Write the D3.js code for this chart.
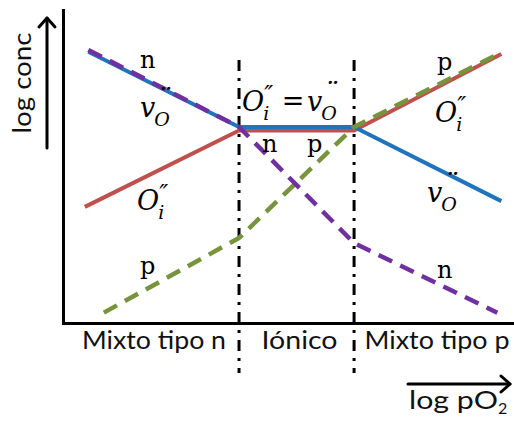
<!DOCTYPE html>
<html>
<head>
<meta charset="utf-8">
<script src="https://cdn.jsdelivr.net/npm/d3@7"></script>
<style>
  html, body { margin: 0; padding: 0; background: #fff; }
  svg { display: block; }
</style>
</head>
<body>
<svg id="chart" width="514" height="423"></svg>
<script>
// Brouwer diagram: defect concentrations vs. oxygen partial pressure (log-log)

// region boundaries along log pO2
const boundaries = [-1, 1];
const regionNames = ["Mixto tipo n", "Iónico", "Mixto tipo p"];

// series: [log pO2, log conc]
const vacancies    = [[-3.62, 1.31], [-1, 0], [1, 0], [3.56, -1.29]];      // v_O
const interstitial = [[-3.68, -1.39], [-1, -0.06], [1, -0.06], [3.56, 1.27]]; // O_i
const electrons    = [[-3.62, 1.34], [-1, 0], [1, -2.02], [3.49, -3.23]];  // n
const holes        = [[-3.35, -3.23], [-1, -1.93], [1, 0], [3.57, 1.30]];  // p

const svg = d3.select("#chart");
const W = 514;

const x = d3.scaleLinear().domain([-4.06, 3.78]).range([63, W]);
const y = d3.scaleLinear().domain([-3.41, 2.035]).range([323, 10]);

const line = d3.line().x(d => x(d[0])).y(d => y(d[1]));

// axes without ticks: plain domain lines
svg.append("g").attr("transform", `translate(${x.range()[0]},0)`)
  .call(d3.axisLeft(y).tickValues([]).tickSizeOuter(0));
svg.append("g").attr("transform", `translate(0,${y.range()[0]})`)
  .call(d3.axisBottom(x).tickValues([]).tickSizeOuter(0));
svg.selectAll(".domain").attr("stroke", "#000").attr("stroke-width", 3)
  .attr("stroke-linecap", "square");

// region separators (dash-dot)
svg.selectAll(".sep").data(boundaries).join("line")
  .attr("class", "sep")
  .attr("x1", d => x(d)).attr("x2", d => x(d))
  .attr("y1", 60).attr("y2", 373)
  .attr("stroke", "#000").attr("stroke-width", 3)
  .attr("stroke-dasharray", "11,7,3,7");

// defect lines
const series = [
  { data: interstitial, color: "#c0504d", dash: null, w: 4 },
  { data: vacancies,    color: "#1f74bd", dash: null, w: 4 },
  { data: holes,        color: "#77933c", dash: "15,9", w: 4.5 },
  { data: electrons,    color: "#7030a0", dash: "15,9", w: 4.5 }
];
svg.selectAll(".series").data(series).join("path")
  .attr("class", "series")
  .attr("d", d => line(d.data))
  .attr("fill", "none")
  .attr("stroke", d => d.color)
  .attr("stroke-width", d => d.w)
  .attr("stroke-linejoin", "round")
  .attr("stroke-dasharray", d => d.dash);

// serif labels
const serif = "'DejaVu Serif', 'Liberation Serif', serif";
const carrierLabels = [
  { t: "n", x: 140, y: 68 },
  { t: "p", x: 140, y: 274 },
  { t: "n", x: 262, y: 152 },
  { t: "p", x: 307, y: 152 },
  { t: "p", x: 437, y: 70 },
  { t: "n", x: 437, y: 278 }
];
svg.selectAll(".carrier").data(carrierLabels).join("text")
  .attr("class", "carrier")
  .attr("x", d => d.x).attr("y", d => d.y)
  .attr("font-family", serif).attr("font-size", 24)
  .text(d => d.t);

// Kröger-Vink symbol: italic base with stacked sub/superscript
function kv(px, py, base, sub, sup, supSize, supDy, supDx) {
  const g = svg.append("g").attr("font-family", serif).attr("font-style", "italic");
  const b = g.append("text").attr("x", px).attr("y", py)
    .attr("font-size", 27).text(base);
  const w = b.node().getComputedTextLength();
  g.append("text").attr("x", px + w - 1).attr("y", py + 9)
    .attr("font-size", 19).text(sub);
  g.append("text").attr("x", px + w + supDx).attr("y", py - supDy)
    .attr("font-size", supSize).text(sup);
  return px + w;
}
const dots = ["¨", 28, 9, 1];
const primes = ["″", 24, 8, 0];
kv(140, 117, "v", "O", ...dots);
kv(137, 210, "O", "i", ...primes);
kv(242, 111, "O", "i", ...primes);
svg.append("text").attr("x", 293).attr("y", 110).attr("text-anchor", "middle")
  .attr("font-family", serif).attr("font-size", 27).text("=");
kv(307, 111, "v", "O", ...dots);
kv(435, 122, "O", "i", ...primes);
kv(427, 202, "v", "O", ...dots);

// region names under the axis
const sans = "Lato, 'Open Sans', sans-serif";
const edges = [x.domain()[0], ...boundaries, x.domain()[1]];
const regionWidths = [144, 76, 145];
svg.selectAll(".region").data(regionNames).join("text")
  .attr("class", "region")
  .attr("x", (d, i) => (x(edges[i]) + x(edges[i + 1])) / 2 + 3)
  .attr("y", 349)
  .attr("text-anchor", "middle")
  .attr("font-family", sans).attr("font-size", 25).attr("fill", "#111")
  .attr("textLength", (d, i) => regionWidths[i])
  .attr("lengthAdjust", "spacingAndGlyphs")
  .text(d => d);

// axis titles with arrows
const arrows = svg.append("g").attr("stroke", "#000").attr("stroke-width", 3)
  .attr("fill", "none").attr("stroke-linecap", "round").attr("stroke-linejoin", "round");
arrows.append("line").attr("x1", 47).attr("y1", 148).attr("x2", 47).attr("y2", 18);
arrows.append("polyline").attr("points", "39,27 47,18 55,27");
arrows.append("line").attr("x1", 408).attr("y1", 384).attr("x2", 510).attr("y2", 384);
arrows.append("polyline").attr("points", "501,376 510,384 501,392");

svg.append("text")
  .attr("transform", "translate(31,83) rotate(-90)")
  .attr("text-anchor", "middle")
  .attr("font-family", sans).attr("font-size", 25).attr("fill", "#111")
  .attr("textLength", 101).attr("lengthAdjust", "spacingAndGlyphs")
  .text("log conc");

const px = svg.append("text").attr("x", 409).attr("y", 409)
  .attr("font-family", sans).attr("font-size", 25).attr("fill", "#111");
px.append("tspan").attr("textLength", 89).attr("lengthAdjust", "spacingAndGlyphs").text("log pO");
px.append("tspan").attr("font-size", 16).attr("dy", 5).text("2");
</script>
</body>
</html>
